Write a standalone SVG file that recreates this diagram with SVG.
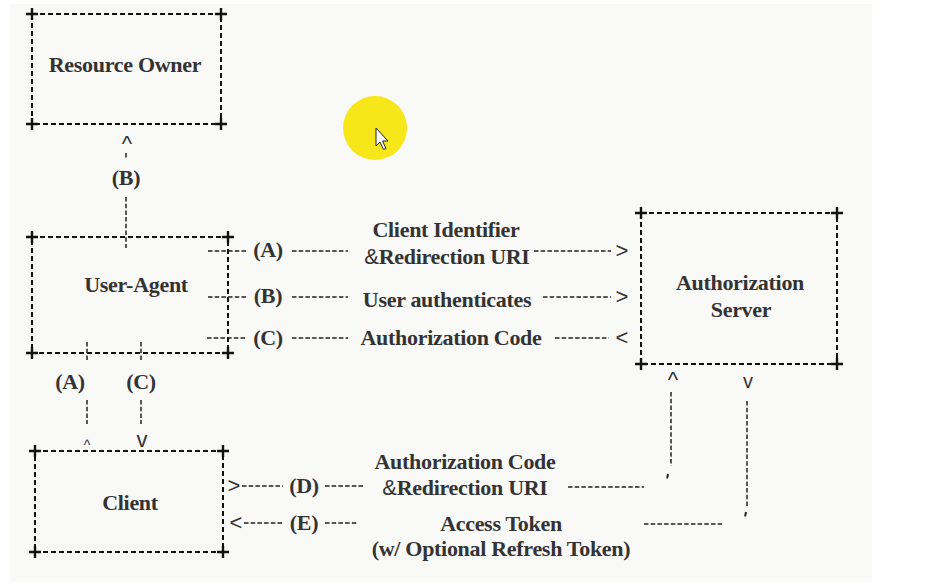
<svg xmlns="http://www.w3.org/2000/svg" width="940" height="588" viewBox="0 0 940 588">
<style>
  .box { fill: none; stroke: #111; stroke-width: 2; stroke-dasharray: 5 3; }
  .plus { stroke: #111; stroke-width: 2.4; fill: none; }
  .lbl { font-family: "Liberation Serif", "Times New Roman", serif; font-weight: bold; font-size: 22px; letter-spacing: -0.3px; fill: #333; text-anchor: middle; }
  .amp { font-family: "Liberation Sans", Arial, sans-serif; font-weight: normal; }
  .dash { stroke: #222; stroke-width: 1.5; stroke-dasharray: 4.5 2.2; fill: none; }
  .head { font-family: "Liberation Sans", Arial, sans-serif; font-size: 22px; fill: #333; text-anchor: middle; }
</style>
<defs>
  <path id="plus" d="M -6 0 H 6 M 0 -6 V 6" class="plus"/>
</defs>
<rect x="0" y="0" width="940" height="588" fill="#ffffff"/>
<rect x="10" y="4" width="862" height="578" fill="#f9f9f8"/>

<g id="resource-owner">
  <rect class="box" x="32" y="14" width="189" height="110"/>
  <use href="#plus" x="32" y="14"/><use href="#plus" x="221" y="14"/>
  <use href="#plus" x="32" y="124"/><use href="#plus" x="221" y="124"/>
  <text class="lbl" x="125" y="72">Resource Owner</text>
</g>

<g id="user-agent">
  <rect class="box" x="32" y="237" width="196" height="116"/>
  <use href="#plus" x="32" y="237"/><use href="#plus" x="228" y="237"/>
  <use href="#plus" x="32" y="353"/><use href="#plus" x="228" y="353"/>
  <text class="lbl" x="136" y="292">User-Agent</text>
</g>

<g id="authorization-server">
  <rect class="box" x="641" y="213" width="196" height="151"/>
  <use href="#plus" x="641" y="213"/><use href="#plus" x="837" y="213"/>
  <use href="#plus" x="641" y="364"/><use href="#plus" x="837" y="364"/>
  <text class="lbl" x="740" y="290">Authorization</text>
  <text class="lbl" x="741" y="317">Server</text>
</g>

<g id="client">
  <rect class="box" x="35" y="451" width="188" height="101"/>
  <use href="#plus" x="35" y="451"/><use href="#plus" x="223" y="451"/>
  <use href="#plus" x="35" y="552"/><use href="#plus" x="223" y="552"/>
  <text class="lbl" x="130" y="510">Client</text>
</g>

<g id="connectors">
  <!-- (B) User-Agent to Resource Owner -->
  <text class="head" x="127" y="151">^</text>
  <line class="dash" x1="126" y1="153" x2="126" y2="158"/>
  <text class="lbl" x="126" y="185">(B)</text>
  <line class="dash" x1="126" y1="197" x2="126" y2="248"/>

  <!-- (A) User-Agent to Authorization Server -->
  <line class="dash" x1="208" y1="251" x2="247" y2="251"/>
  <text class="lbl" x="268" y="257">(A)</text>
  <line class="dash" x1="292" y1="251" x2="348" y2="251"/>
  <text class="lbl" x="446" y="237">Client Identifier</text>
  <text class="lbl" x="447" y="264"><tspan class="amp">&amp;</tspan>Redirection URI</text>
  <line class="dash" x1="534" y1="251" x2="611" y2="251"/>
  <text class="head" x="622" y="258">&gt;</text>

  <!-- (B) -->
  <line class="dash" x1="208" y1="297" x2="247" y2="297"/>
  <text class="lbl" x="268" y="303">(B)</text>
  <line class="dash" x1="292" y1="297" x2="348" y2="297"/>
  <text class="lbl" x="447" y="307">User authenticates</text>
  <line class="dash" x1="543" y1="297" x2="611" y2="297"/>
  <text class="head" x="622" y="304">&gt;</text>

  <!-- (C) -->
  <line class="dash" x1="207" y1="338" x2="247" y2="338"/>
  <text class="lbl" x="268" y="345">(C)</text>
  <line class="dash" x1="292" y1="338" x2="348" y2="338"/>
  <text class="lbl" x="451" y="345">Authorization Code</text>
  <line class="dash" x1="555" y1="338" x2="609" y2="338"/>
  <text class="head" x="622" y="345">&lt;</text>

  <!-- (A)/(C) User-Agent to Client -->
  <line class="dash" x1="87" y1="342" x2="87" y2="362"/>
  <text class="lbl" x="70" y="389">(A)</text>
  <line class="dash" x1="87" y1="400" x2="87" y2="424"/>
  <text class="head" x="87" y="450" style="font-size:14px">^</text>

  <line class="dash" x1="141" y1="342" x2="141" y2="362"/>
  <text class="lbl" x="141" y="389">(C)</text>
  <line class="dash" x1="141" y1="400" x2="141" y2="424"/>
  <text class="head" x="142" y="447">v</text>

  <!-- (D) Client to Authorization Server -->
  <text class="head" x="234" y="493">&gt;</text>
  <line class="dash" x1="242" y1="486" x2="283" y2="486"/>
  <text class="lbl" x="304" y="493">(D)</text>
  <line class="dash" x1="325" y1="486" x2="363" y2="486"/>
  <text class="lbl" x="465" y="469">Authorization Code</text>
  <text class="lbl" x="465" y="495"><tspan class="amp">&amp;</tspan>Redirection URI</text>
  <line class="dash" x1="568" y1="487" x2="644" y2="487"/>
  <line class="dash" x1="668" y1="474" x2="667" y2="479" style="stroke-width:2"/>
  <line class="dash" x1="671" y1="392" x2="671" y2="466"/>
  <text class="head" x="673" y="387">^</text>

  <!-- (E) Authorization Server to Client -->
  <text class="head" x="236" y="530">&lt;</text>
  <line class="dash" x1="244" y1="523" x2="283" y2="523"/>
  <text class="lbl" x="304" y="530">(E)</text>
  <line class="dash" x1="325" y1="523" x2="358" y2="523"/>
  <text class="lbl" x="501" y="531">Access Token</text>
  <text class="lbl" x="501" y="556">(w/ Optional Refresh Token)</text>
  <line class="dash" x1="644" y1="524" x2="722" y2="524"/>
  <line class="dash" x1="746" y1="512" x2="745" y2="517" style="stroke-width:2"/>
  <line class="dash" x1="747" y1="401" x2="747" y2="507"/>
  <text class="head" x="748" y="388" style="font-size:20px">v</text>
</g>

<g id="cursor-highlight">
  <circle cx="375" cy="128" r="32" fill="#f7e71a"/>
  <path d="M 376 128 L 376 146 L 380 142 L 383.5 149.5 L 386 148.5 L 382.5 141 L 388 141 Z" fill="#ffffff" stroke="#222" stroke-width="1"/>
</g>
</svg>
